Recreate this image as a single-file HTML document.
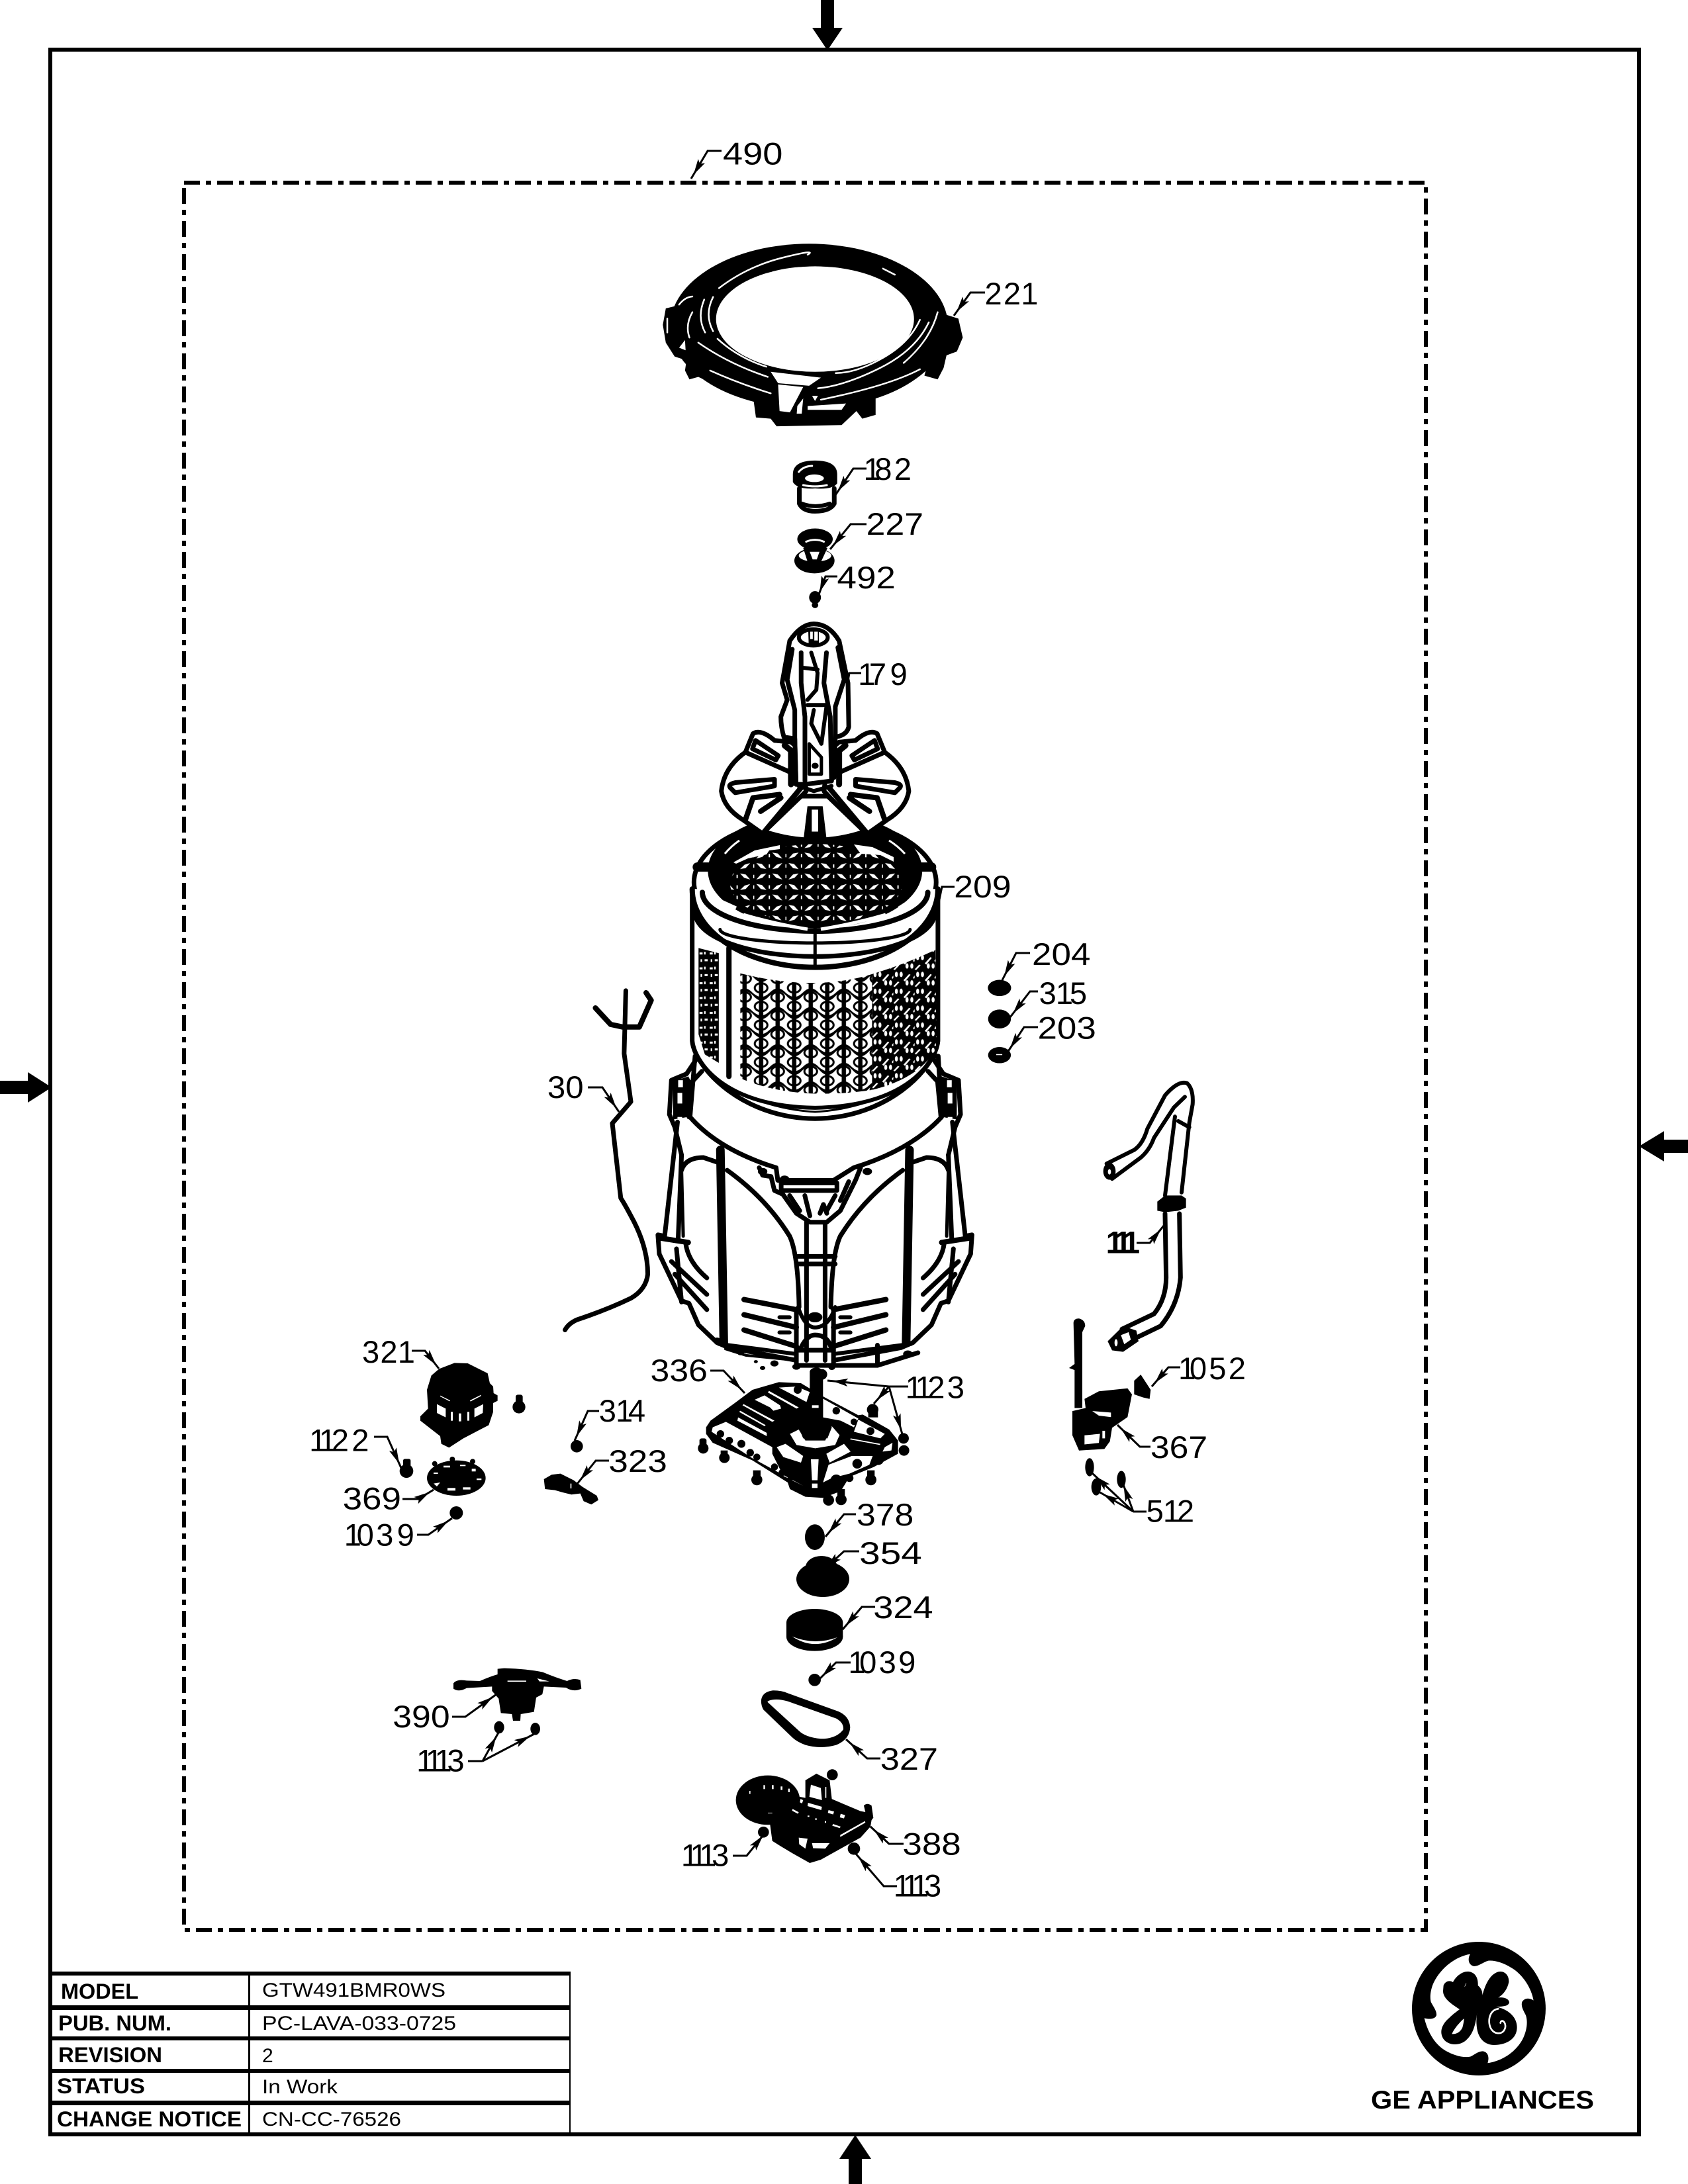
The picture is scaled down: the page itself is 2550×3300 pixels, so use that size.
<!DOCTYPE html>
<html><head><meta charset="utf-8"><title>GTW491BMR0WS</title>
<style>
html,body{margin:0;padding:0;background:#fff}
svg{display:block}
g.v *{vector-effect:non-scaling-stroke}
text{font-family:"Liberation Sans",Arial,sans-serif;fill:#000}
</style></head><body>
<svg xmlns="http://www.w3.org/2000/svg" width="2550" height="3300" viewBox="0 0 2550 3300">
<defs>
<marker id="a" markerUnits="userSpaceOnUse" markerWidth="40" markerHeight="18" refX="34" refY="9" orient="auto" overflow="visible"><polygon points="3,3 27,9 3,15 8,9" fill="#000"/></marker>
<pattern id="mt" patternUnits="userSpaceOnUse" width="127" height="62" x="618" y="696">
<rect width="127" height="62" fill="#000"/>
<g fill="#fff">
<polygon points="12,24 30,9 52,6 36,19"/>
<polygon points="12,37 34,40 52,55 30,52"/>
<polygon points="75,6 97,9 115,24 91,19"/>
<polygon points="75,55 93,42 115,37 97,52"/>
<rect x="61" y="10" width="5" height="10"/><rect x="61" y="41" width="5" height="10"/>
<rect x="0" y="10" width="4" height="10"/><rect x="0" y="41" width="4" height="10"/>
</g>
</pattern>
<pattern id="ms" patternUnits="userSpaceOnUse" width="130.6" height="55" x="620" y="1089">
<rect width="130.6" height="55" fill="#fff"/>
<g fill="#000">
<ellipse cx="32.6" cy="14" rx="29" ry="17"/><ellipse cx="32.6" cy="69" rx="29" ry="17"/>
<ellipse cx="98" cy="41" rx="29" ry="17"/><ellipse cx="98" cy="-14" rx="29" ry="17"/>
<path d="M0,29Q18,40 32,41Q48,41 65,29Q82,16 98,15Q115,16 130.6,29L130.6,36Q115,24 98,24Q82,26 65,38Q48,52 32,52Q16,50 0,36Z"/>
</g>
<ellipse cx="32.6" cy="14" rx="21" ry="11" fill="#fff"/>
<ellipse cx="98" cy="41" rx="21" ry="11" fill="#fff"/>
<rect x="24" width="17" height="55" fill="#000"/>
<rect x="89.5" width="17" height="55" fill="#000"/>
</pattern>
<pattern id="mr" patternUnits="userSpaceOnUse" width="84" height="50" x="960" y="1000">
<rect width="84" height="50" fill="#000"/>
<g fill="#fff">
<ellipse cx="12" cy="13" rx="6" ry="8"/><ellipse cx="31" cy="13" rx="6" ry="8"/>
<ellipse cx="54" cy="38" rx="6" ry="8"/><ellipse cx="73" cy="38" rx="6" ry="8"/>
<polygon points="40,30 62,12 68,14 46,34"/>
<polygon points="0,48 18,34 24,36 6,50"/>
<polygon points="78,22 84,16 84,24 80,26"/>
</g>
</pattern>
<pattern id="ml" patternUnits="userSpaceOnUse" width="40" height="44" x="275" y="990">
<rect width="40" height="44" fill="#000"/>
<rect x="4" y="8" width="12" height="6" fill="#fff"/><rect x="24" y="28" width="12" height="6" fill="#fff"/>
<rect x="22" y="6" width="6" height="8" fill="#fff"/><rect x="8" y="28" width="6" height="8" fill="#fff"/>
</pattern>

<g id="frameL" class="v">
<path d="M495,260L465,320L420,345L414,480L430,530L450,640" stroke-width="7"/>
<path d="M510,310L482,350L472,490" stroke-width="7"/>
<path d="M425,350L470,330L478,350L468,490L425,500Z" fill="#000" stroke="none"/>
<rect x="440" y="345" width="14" height="28" fill="#fff" stroke="none"/>
<rect x="438" y="395" width="14" height="42" fill="#fff" stroke="none"/>
<rect x="438" y="490" width="14" height="26" fill="#fff" stroke="none"/>
<path d="M438,510L400,960L380,955L384,1030L450,1215L472,1225L500,1310L555,1380L590,1400L790,1450" stroke-width="7"/>
<path d="M450,640L440,970" stroke-width="7"/>
<path d="M450,700Q462,650 515,650L555,668" stroke-width="7"/>
<path d="M450,700L455,960" stroke-width="5"/>
<path d="M388,968L470,985" stroke-width="8"/>
<path d="M462,985Q468,1060 525,1125" stroke-width="7"/>
<path d="M420,1060L525,1190M430,1110L525,1250M435,1010L450,1220" stroke-width="7"/>
<path d="M565,620L575,1380" stroke-width="13"/>
<path d="M585,700Q700,810 770,960Q795,1030 798,1240" stroke-width="7"/>
<path d="M635,1210L790,1250M635,1270L790,1320M635,1330L790,1395" stroke-width="8"/>
<path d="M560,1385L790,1425" stroke-width="6"/>
<path d="M740,1280L770,1280M740,1340L770,1340" stroke-width="6"/>
<path d="M790,1250L790,1470" stroke-width="7"/>
</g>
<g id="plateL" class="v">
<path d="M640,375L575,370Q520,335 490,350L460,405Q375,450 365,520Q375,570 450,605L535,650L700,520L680,400Z" fill="#fff" stroke-width="7"/>
<path d="M460,405L640,465" stroke-width="7"/>
<path d="M500,370L590,415L580,428L488,395Z" fill="#fff" stroke-width="7"/>
<path d="M400,510Q390,500 420,495L575,485L575,505L420,525Z" fill="#fff" stroke-width="7"/>
<path d="M460,605L490,540L595,530M520,580L600,540M535,640L680,510" stroke-width="8"/>
<path d="M615,385L640,400L640,500" stroke-width="9"/>
</g>
</defs>

<!-- page frame -->
<rect x="76" y="75" width="2400" height="3150" fill="none" stroke="#000" stroke-width="6"/>
<!-- edge arrows -->
<polygon points="1240,0 1260,0 1260,42 1273,42 1250,76 1227,42 1240,42" fill="#000"/>
<polygon points="1282,3300 1302,3300 1302,3262 1316,3262 1292,3226 1268,3262 1282,3262" fill="#000"/>
<polygon points="0,1633 42,1633 42,1620 78,1643 42,1666 42,1653 0,1653" fill="#000"/>
<polygon points="2550,1722 2514,1722 2514,1709 2476,1732 2514,1755 2514,1742 2550,1742" fill="#000"/>

<!-- dash-dot 490 boundary -->
<rect x="278" y="276" width="1876" height="2640" fill="none" stroke="#000" stroke-width="6" stroke-dasharray="24 9 8 9"/>

<!-- wire 30 + tub -->
<g class="v" transform="translate(800,1500) scale(.5102,.3831)" fill="none" stroke="#000" stroke-linejoin="round" stroke-linecap="round">
<path d="M285,-8L280,240L300,430L245,515L270,810Q280,830 300,880Q350,1000 350,1110Q345,1170 300,1205Q230,1250 140,1290Q115,1305 105,1330" stroke-width="7"/>
<path d="M195,60L240,125L275,135L325,135L360,30L345,0" stroke-width="8"/>
<path d="M475,490Q560,620 730,690L735,740L900,740L960,690Q1130,620 1220,490L1210,250L490,250Z" fill="#fff" stroke-width="7"/>
<use href="#frameL"/>
<use href="#frameL" transform="translate(1690,0) scale(-1,1)"/>
<path d="M745,750L910,750L910,780L745,780Z" fill="#fff" stroke-width="7"/>
<path d="M680,690L690,720L715,725L725,780L750,795L790,870L830,905L880,905L920,860L965,740L980,690" stroke-width="7"/>
<path d="M815,800L830,880M880,860L905,800M860,870L870,835L880,870M770,800L800,860M945,745L920,820" stroke-width="7"/>
<circle cx="690" cy="705" r="14" fill="#000" stroke="none"/><circle cx="755" cy="735" r="14" fill="#000" stroke="none"/><circle cx="1000" cy="705" r="14" fill="#000" stroke="none"/>
<path d="M820,905L820,1450M875,905L875,1450M795,1070L905,1070M795,1040L905,1040" stroke-width="7"/>
<path d="M795,1240Q815,1320 845,1320Q885,1320 905,1240" stroke-width="6"/>
<ellipse cx="845" cy="1280" rx="22" ry="20" fill="#000" stroke="none"/>
<path d="M800,1410Q820,1350 845,1350Q885,1350 895,1410" stroke-width="7"/>
<path d="M790,1470L1030,1470L1150,1420M1030,1470L1030,1390M790,1410L900,1410" stroke-width="7"/>
<path d="M580,1405L640,1430L790,1450" stroke-width="4"/>
<circle cx="690" cy="1480" r="8" fill="#000" stroke="none"/><circle cx="670" cy="1455" r="6" fill="#000" stroke="none"/><circle cx="725" cy="1462" r="12" fill="#000" stroke="none"/><circle cx="790" cy="1475" r="12" fill="#000" stroke="none"/><circle cx="895" cy="1478" r="10" fill="#000" stroke="none"/><circle cx="625" cy="1420" r="10" fill="#000" stroke="none"/><circle cx="1120" cy="1425" r="14" fill="#000" stroke="none"/><circle cx="555" cy="1370" r="10" fill="#000" stroke="none"/>
</g>

<!-- basket + impeller -->
<g class="v" transform="translate(950,930) scale(.3827,.5102)" fill="none" stroke="#000" stroke-linejoin="round" stroke-linecap="round">
<path d="M250,810L250,1260C260,1340 450,1490 735,1490C1020,1490 1210,1340 1220,1260L1220,810Z" fill="#fff" stroke-width="7"/>
<path d="M440,1060Q735,1115 960,1062L960,1405Q735,1430 560,1400Q480,1385 440,1370Z" fill="url(#ms)" stroke="none"/>
<path d="M960,1062Q1100,1030 1210,990L1215,1280Q1150,1370 960,1405Z" fill="url(#mr)" stroke="none"/>
<path d="M275,985L355,1000L355,1325L300,1300L275,1240Z" fill="url(#ml)" stroke="none"/>
<path d="M395,985L395,1365" stroke-width="8"/>
<path d="M265,1300C340,1400 500,1455 735,1458C970,1455 1130,1400 1205,1300" stroke-width="6"/>
<path d="M330,1370C450,1430 600,1465 735,1470C870,1465 1020,1430 1140,1370" stroke-width="3"/>
<ellipse cx="735" cy="790" rx="478" ry="190" fill="#fff" stroke-width="7"/>
<path d="M250,810A485 232 0 0 0 1220,810" fill="#fff" stroke-width="8"/>
<path d="M262,880A473 130 0 0 0 1208,880" stroke-width="7"/>
<path d="M360,930A375 40 0 0 0 1110,930" stroke-width="5"/>
<path d="M290,820A445 115 0 0 0 1180,820" stroke-width="8"/>
<path d="M735,925L735,1040" stroke-width="5"/>
<ellipse cx="735" cy="755" rx="410" ry="162" fill="#000" stroke="#000" stroke-width="10"/>
<ellipse cx="740" cy="795" rx="340" ry="118" fill="url(#mt)" stroke="none"/>
<path d="M270,745L325,745M1145,745L1195,745" stroke-width="14"/>
<use href="#plateL"/>
<use href="#plateL" transform="translate(1470,0) scale(-1,1)"/>
<path d="M535,640L680,535L785,535L930,640Q735,690 535,640Z" fill="#fff" stroke-width="7"/>
<path d="M690,660L705,565L765,565L780,660Q735,670 690,660Z" fill="#000" stroke="none"/>
<rect x="722" y="575" width="25" height="65" fill="#fff" stroke="none"/>
<path d="M635,75Q680,25 730,25Q790,25 830,75L865,200L868,330Q860,355 815,360L800,490L695,500L660,500L655,365L612,360Q600,330 600,300L625,250L605,200Z" fill="#fff" stroke-width="7"/>
<ellipse cx="728" cy="65" rx="57" ry="24" stroke-width="6"/>
<path d="M708,42L750,42L750,88L710,88Z" fill="#000" stroke="none"/>
<rect x="716" y="48" width="10" height="22" fill="#fff" stroke="none"/><rect x="732" y="48" width="14" height="26" fill="#fff" stroke="none"/>
<path d="M645,100L625,190L655,280L655,360L660,500" stroke-width="7"/>
<path d="M825,95L850,190L815,270L815,350L810,480" stroke-width="7"/>
<path d="M680,110L680,200L695,300L695,490" stroke-width="7"/>
<path d="M780,110L770,200L795,300L800,490" stroke-width="7"/>
<path d="M720,110L745,170L740,220L705,250M690,155L745,160M730,280L720,320L760,380L780,270M705,265L780,265" stroke-width="6"/>
<path d="M712,380L760,420L760,470L712,470Z" stroke-width="5"/>
<ellipse cx="735" cy="445" rx="14" ry="9" fill="#000" stroke="none"/>
<path d="M700,500L670,505L730,520L800,505" stroke-width="6"/>
<path d="M835,375L895,372M630,375L575,372" stroke-width="5"/>
<ellipse cx="1463" cy="1103" rx="46" ry="24" fill="#000" stroke="none"/>
<ellipse cx="1463" cy="1195" rx="45" ry="28" fill="#000" stroke="none"/>
<ellipse cx="1463" cy="1302" rx="45" ry="24" fill="#000" stroke="none"/>
<rect x="1450" y="1299" width="24" height="3" fill="#fff" stroke="none"/>
</g>
<!-- white highlights in basket hole -->
<g fill="#fff" stroke="none">
<polygon points="1108,1303 1140,1285 1178,1277 1178,1283 1162,1285 1158,1291 1130,1297 1112,1305"/>
<polygon points="1290,1276 1318,1280 1350,1295 1350,1302 1330,1292 1300,1290"/>
</g>
<g fill="none" stroke="#fff" stroke-width="5">
<path d="M1123,1382Q1170,1396 1220,1404"/>
<path d="M1240,1404Q1290,1396 1338,1382"/>
<path d="M1090,1362L1112,1372"/>
<path d="M1358,1372L1380,1358"/>
<path stroke-width="3" d="M1095,1290Q1105,1278 1117,1270"/>
<path stroke-width="3" d="M1343,1270Q1356,1278 1367,1290"/>
</g>

<!-- ring 221, 182, 227, 492 -->
<g class="v" transform="translate(950,330) scale(.4464,.3831)" fill="none" stroke="#fff" stroke-linejoin="round" stroke-linecap="round">
<ellipse cx="610" cy="425" rx="470" ry="325" fill="#000" stroke="none"/>
<path d="M1060,375L1115,395L1130,470L1110,525L1075,540L1065,590L1045,635L1000,620ZM835,700L835,775L790,790L770,760L720,815L500,820L480,790L430,785L420,700ZM300,660L235,625L205,635L190,600L195,560L155,545L125,490L115,420L125,355L160,345L185,300L215,285L300,400Z" fill="#000" stroke="none"/>
<ellipse cx="630" cy="397" rx="335" ry="208" fill="#fff" stroke="none"/>
<path d="M420,190L490,190L485,210L430,225ZM520,175L740,175L735,195L630,188L525,195ZM770,185L840,190L830,225L785,212Z" fill="#000" stroke="none"/>
<path d="M305,275Q400,190 520,155T605,143M860,198L900,222M255,320Q230,390 258,450M285,310Q255,380 285,445M215,370Q190,420 205,470M300,475Q370,550 465,585M235,490Q340,575 470,625M275,600Q370,650 480,690M985,400Q950,490 860,550T700,610M1015,410Q970,520 850,590T640,670M1045,370Q1020,480 930,570M985,595Q880,660 650,715M170,340Q190,310 215,308M130,395L130,450" stroke-width="2.5"/>
<path d="M480,605L650,628L610,660L505,650ZM505,655L590,665L545,765L510,760ZM568,770L585,770L590,710L570,740ZM605,740L735,730L720,755L605,755ZM620,700L640,700L630,720ZM170,510L190,480L192,520Z" fill="#fff" stroke="none"/>
<path d="M555,1010Q555,955 630,955Q705,955 705,1010L705,1045Q690,1070 630,1065Q570,1070 555,1040Z" fill="#000" stroke="none"/>
<ellipse cx="628" cy="1025" rx="32" ry="15" fill="#fff" stroke="none"/>
<path d="M575,1000Q590,978 620,976M590,1052Q630,1062 670,1052" stroke-width="3"/>
<path d="M577,1065L577,1125Q590,1155 630,1155Q680,1155 695,1125L695,1065" stroke="#000" stroke-width="7"/>
<path d="M585,1125Q630,1145 680,1125" stroke="#000" stroke-width="6"/>
<ellipse cx="630" cy="1265" rx="60" ry="42" fill="#000" stroke="none"/>
<ellipse cx="628" cy="1350" rx="68" ry="50" fill="#000" stroke="none"/>
<ellipse cx="630" cy="1330" rx="55" ry="24" fill="#fff" stroke="none"/>
<path d="M600,1275Q630,1260 660,1275" stroke-width="3"/>
<path d="M590,1300L610,1290L650,1290L672,1300L650,1355L605,1355Z" fill="#000" stroke="none"/>
<polygon points="612,1315 645,1315 636,1345 622,1345" fill="#fff" stroke="none"/>
<ellipse cx="630" cy="1495" rx="20" ry="25" fill="#000" stroke="none"/>
<ellipse cx="630" cy="1525" rx="11" ry="12" fill="#000" stroke="none"/>
</g>

<!-- hose 111, valve 367 -->
<g class="v" transform="translate(1580,1600) scale(.3333,.4587)" fill="none" stroke="#000" stroke-linejoin="round" stroke-linecap="round">
<path d="M275,345L400,300Q440,280 460,230L540,120Q600,70 640,80Q670,100 665,150L650,210L615,440" stroke-width="6"/>
<path d="M300,395L430,325Q470,300 490,260L580,160L630,125M585,190L540,450M600,205L650,225" stroke-width="6"/>
<ellipse cx="288" cy="370" rx="28" ry="28" fill="#000" stroke="none"/><ellipse cx="288" cy="372" rx="7" ry="9" fill="#fff" stroke="none"/>
<path d="M505,470L540,450L615,450L635,460L635,490L600,500L540,505L505,500Z" fill="#000" stroke="none"/>
<path d="M540,510L545,720Q545,790 490,840L345,890M605,510L610,720Q600,810 520,880L420,915" stroke-width="7"/>
<path d="M280,930L350,880L410,895L420,930L350,965L300,960Z" fill="#000" stroke="none"/>
<polygon points="340,910 375,900 385,925 355,940" fill="#fff" stroke="none"/>
<ellipse cx="318" cy="935" rx="7" ry="12" fill="#fff" stroke="none"/>
<path d="M125,870Q125,855 150,855Q178,860 178,880L165,900L165,1150L130,1150L130,1025L105,1018L130,1005Z" fill="#000" stroke="none"/>
<path d="M120,1160L180,1150L175,1120L240,1095L370,1085L390,1105L370,1180L300,1215L290,1260L265,1285L150,1290L120,1240Z" fill="#000" stroke="none"/>
<polygon points="175,1240 245,1235 240,1265 175,1270" fill="#fff" stroke="none"/>
<polygon points="256,1225 268,1225 268,1250 256,1250" fill="#fff" stroke="none"/>
<polygon points="210,1160 295,1165 295,1180 240,1175" fill="#fff" stroke="none"/>
<path d="M400,1060L430,1040L475,1090L470,1120L440,1115L400,1105Z" fill="#000" stroke="none"/>
<ellipse cx="198" cy="1345" rx="20" ry="30" fill="#000" stroke="none"/>
<ellipse cx="228" cy="1410" rx="22" ry="28" fill="#000" stroke="none"/>
<ellipse cx="342" cy="1385" rx="20" ry="28" fill="#000" stroke="none"/>
</g>

<!-- motor 321, 369, 323 etc -->
<g class="v" transform="translate(600,2000) scale(.3333)" fill="#000" stroke="none">
<path d="M190,205L260,178L320,180L410,225L420,270L435,285L437,315L455,325L455,350L435,360L435,400L415,460L300,520L235,562L200,545L195,510L105,440L105,420L140,385L135,300L155,235Z"/>
<g fill="#fff"><polygon points="180,365 220,385 220,425 180,405"/><polygon points="350,385 390,365 388,405 350,425"/><rect x="243" y="400" width="9" height="40"/><rect x="279" y="407" width="11" height="36"/><rect x="318" y="400" width="9" height="40"/><polygon points="195,326 240,348 238,352 195,330"/><polygon points="330,348 380,323 380,328 332,353"/></g>
<circle cx="552" cy="378" r="29"/><rect x="537" y="322" width="32" height="50" rx="10"/>
<circle cx="42" cy="668" r="31"/><rect x="27" y="613" width="34" height="50" rx="8"/>
<ellipse cx="268" cy="700" rx="133" ry="80"/>
<circle cx="250" cy="615" r="12"/><circle cx="170" cy="635" r="12"/><circle cx="342" cy="625" r="12"/>
<g fill="#fff"><rect x="210" y="644" width="30" height="8"/><rect x="285" y="640" width="25" height="6"/><rect x="338" y="658" width="18" height="12"/><rect x="165" y="675" width="20" height="6"/><rect x="360" y="702" width="22" height="7"/><polygon points="165,725 195,720 180,738"/><rect x="228" y="745" width="36" height="12"/><rect x="298" y="742" width="34" height="10"/></g>
<circle cx="268" cy="858" r="30"/>
<circle cx="814" cy="556" r="28"/>
<path d="M665,705L700,685L740,680L800,710L840,740L905,780L912,800L880,820L845,805L830,770L790,775L750,765L715,755L670,750Z"/>
<rect x="785" y="725" width="5" height="22" fill="#fff"/>
</g>

<!-- 336 -->
<g class="v" transform="translate(950,2000) scale(.3333)" fill="#000" stroke="none">
<path d="M350,470L370,440L480,360L560,300L680,265L780,270L830,300L880,330L1040,415L1060,412L1180,480L1220,530L1220,590L1110,650L1000,695L960,760L880,790L800,785L730,750L720,720L560,620L380,540L350,500Z"/>
<g fill="#fff">
<polygon points="680,290 760,285 820,310 805,355"/>
<polygon points="880,340 1040,430 1020,470 960,440 880,425"/>
<polygon points="570,345 615,325 685,370 690,385 655,395 640,380"/>
<polygon points="635,305 770,380 760,385 630,312"/>
<polygon points="520,365 660,440 650,445 515,370"/>
<polygon points="505,395 620,460 615,465 500,400"/>
<polygon points="495,425 625,495 625,510 492,440"/>
<polygon points="380,470 440,445 650,560 650,590 700,690 790,735 560,610 375,490"/>
<path d="M730,500L770,480L800,530L890,530L920,465L955,505L935,550L845,565L760,550Z"/>
<polygon points="670,560 710,545 790,600 780,630 700,605"/>
<polygon points="895,590 975,545 1005,580 910,630"/>
<polygon points="1040,435 1160,500 1140,520 1020,490"/>
<polygon points="1005,520 1140,545 1138,550 1003,525"/>
<polygon points="1010,600 1105,600 1090,640 1000,680 920,700 880,720 905,640"/>
<polygon points="1160,560 1195,540 1190,575 1150,580"/>
</g>
<circle cx="1095" cy="487" r="18"/><circle cx="940" cy="395" r="17"/><circle cx="765" cy="300" r="18"/><circle cx="1020" cy="445" r="15"/>
<circle cx="415" cy="500" r="17"/><circle cx="455" cy="530" r="17"/><circle cx="510" cy="545" r="18"/><circle cx="550" cy="585" r="17"/><circle cx="580" cy="605" r="16"/><circle cx="660" cy="650" r="16"/><circle cx="695" cy="675" r="16"/><circle cx="735" cy="695" r="16"/>
<circle cx="1035" cy="635" r="22"/><circle cx="940" cy="710" r="26"/><circle cx="1000" cy="700" r="18"/><circle cx="1130" cy="615" r="26"/>
<g fill="#fff"><polygon points="825,615 860,615 855,710 830,710"/><rect x="830" y="725" width="25" height="20"/></g>
<path d="M820,215Q830,195 860,200L880,210L880,440L920,470L900,520L790,520L770,470L810,440L820,400Z"/>
<circle cx="875" cy="230" r="24"/>
<rect x="830" y="370" width="30" height="12" fill="#fff"/>
<circle cx="337" cy="565" r="24"/><rect x="320" y="520" width="32" height="45" rx="10"/>
<circle cx="433" cy="608" r="24"/><rect x="416" y="575" width="32" height="30"/>
<circle cx="580" cy="708" r="25"/><rect x="563" y="665" width="34" height="40"/>
<circle cx="1097" cy="708" r="25"/><rect x="1080" y="665" width="34" height="40"/>
<circle cx="905" cy="800" r="25"/><circle cx="962" cy="798" r="25"/><rect x="945" y="750" width="34" height="45"/>
<circle cx="1105" cy="390" r="26"/><rect x="1085" y="385" width="44" height="40"/>
<circle cx="1245" cy="520" r="24"/><circle cx="1247" cy="575" r="24"/>
<ellipse cx="843" cy="968" rx="45" ry="58"/>
</g>

<!-- 354, 324, 1039, 327, 388 -->
<ellipse cx="1243" cy="2386" rx="40" ry="27" fill="#000"/>
<ellipse cx="1241" cy="2368" rx="24" ry="17" fill="#000"/>
<g class="v" transform="translate(1000,2380) scale(.3333)" fill="#000" stroke="none">
<ellipse cx="692" cy="280" rx="128" ry="64"/>
<ellipse cx="692" cy="215" rx="128" ry="62"/>
<rect x="564" y="215" width="256" height="65"/>
<path d="M590,278Q690,320 795,282Q690,345 590,278Z" fill="#fff"/>
<circle cx="692" cy="475" r="28"/>
<path fill-rule="evenodd" d="M450,565Q455,530 500,523Q540,522 570,535L800,618Q850,640 853,690Q850,745 790,770Q720,790 650,770Q610,755 590,735L460,610Q448,590 450,565ZM478,575L620,705Q650,735 720,742Q790,742 822,700Q825,670 790,650L570,572Q530,560 500,565Q480,568 478,575Z"/>
<ellipse cx="480" cy="1020" rx="145" ry="112"/>
<path d="M650,1010L650,930L700,900L760,930L770,1015L900,1070L955,1080L945,1140L900,1190L720,1290L670,1305L590,1260L540,1230L500,1205L490,1130L600,1000Z"/>
<circle cx="772" cy="905" r="25"/>
<path d="M915,1045Q930,1030 950,1045L958,1100L935,1130Z"/>
<circle cx="460" cy="1165" r="25"/>
<circle cx="870" cy="1240" r="28"/>
<g fill="#fff">
<polygon points="675,950 720,965 725,1020 668,1005"/>
<polygon points="740,960 745,960 745,1010 740,1010"/>
<rect x="460" y="952" width="7" height="18"/><rect x="498" y="952" width="8" height="18"/><rect x="538" y="958" width="8" height="16"/><rect x="572" y="968" width="7" height="16"/><rect x="396" y="978" width="5" height="14"/>
<polygon points="628,1015 640,1020 635,1035 625,1030"/>
<polygon points="662,1032 725,1050 722,1065 660,1047"/>
<polygon points="755,1065 780,1072 776,1085 752,1078"/>
<polygon points="810,1082 830,1088 825,1103 806,1098"/>
<polygon points="592,1060 620,1075 616,1082 590,1068"/>
<polygon points="775,1128 810,1140 806,1147 772,1136"/>
<polygon points="808,1178 920,1115 922,1122 808,1187"/>
<polygon points="620,1190 660,1195 650,1240 622,1220"/>
<polygon points="680,1215 760,1215 740,1240 685,1238"/>
<rect x="480" y="1077" width="20" height="3"/><rect x="660" y="1090" width="8" height="6"/><rect x="695" y="1102" width="6" height="8"/><rect x="738" y="1115" width="6" height="8"/>
</g>
</g>

<!-- 390 -->
<g class="v" transform="translate(580,2480) scale(.3333)" fill="#000" stroke="none">
<path d="M315,190Q330,170 375,178L435,180Q480,160 515,150L515,125L545,122Q650,125 720,140Q780,165 830,180Q860,165 890,175L895,215Q860,232 825,210L725,205L718,240L690,255L680,320L620,330L618,360L585,360L580,330L530,325L520,260L490,225L490,205L375,212Q340,232 315,215Z"/>
<polygon points="560,178 645,178 645,183 560,183" fill="#fff"/>
<polygon points="695,168 750,182 705,182" fill="#fff"/>
<ellipse cx="522" cy="390" rx="23" ry="28"/>
<ellipse cx="686" cy="397" rx="22" ry="28"/>
</g>

<!-- GE logo -->
<g transform="translate(2040,2900) scale(.3333)">
<circle cx="582" cy="405" r="303" fill="#000"/>
<path fill="#fff" d="M543,158C470,170 400,230 372,300C362,330 360,355 365,375C375,395 392,415 390,435C385,452 360,455 335,448C350,510 380,565 430,595C470,618 515,630 545,622C565,612 580,598 600,598C620,600 632,620 622,652C690,642 750,600 780,545C800,505 805,465 795,435C785,415 772,395 778,375C790,355 812,356 830,368C820,310 780,250 730,220C690,195 650,185 625,188C600,195 585,212 560,213C535,208 530,180 543,158Z"/>
<path fill="#000" d="M422,300C430,280 450,275 465,285C480,255 510,235 535,237C565,240 580,265 578,300C590,310 600,325 598,345C610,300 630,250 670,238C700,232 720,255 718,285C712,315 695,340 670,355C695,352 720,360 720,378C715,395 690,395 660,397C710,405 755,440 755,490C755,540 710,570 650,570C600,568 575,530 572,480C570,460 572,440 575,420C568,470 560,520 520,552C490,575 440,572 420,540C400,505 420,470 450,445C465,430 480,420 495,408C460,385 420,360 420,325Z"/>
<path fill="#fff" d="M515,450C500,462 470,495 460,520C480,522 500,510 508,490C512,475 515,460 515,450Z"/>
<path fill="none" stroke="#fff" stroke-width="8" stroke-linecap="round" d="M670,406C640,410 625,440 630,475C635,505 655,520 680,516C700,510 708,485 698,468C692,458 682,458 680,470"/>
<path fill="none" stroke="#fff" stroke-width="2" d="M525,290L518,305"/>
</g>
<text x="2071" y="3186" font-size="39" font-weight="bold" textLength="337" lengthAdjust="spacingAndGlyphs">GE APPLIANCES</text>

<!-- title block -->
<g fill="#000">
<rect x="76" y="2979" width="786" height="6"/>
<rect x="76" y="3030" width="786" height="7"/>
<rect x="76" y="3077" width="786" height="6"/>
<rect x="76" y="3126" width="786" height="6"/>
<rect x="76" y="3174" width="786" height="7"/>
<rect x="375" y="2980" width="3" height="245"/>
<rect x="860" y="2980" width="2" height="245"/>
</g>
<g font-size="32" font-weight="bold">
<text x="92" y="3020" textLength="117" lengthAdjust="spacingAndGlyphs">MODEL</text>
<text x="88" y="3068" textLength="171" lengthAdjust="spacingAndGlyphs">PUB. NUM.</text>
<text x="88" y="3116" textLength="157" lengthAdjust="spacingAndGlyphs">REVISION</text>
<text x="86" y="3163" textLength="133" lengthAdjust="spacingAndGlyphs">STATUS</text>
<text x="86" y="3213" textLength="279" lengthAdjust="spacingAndGlyphs">CHANGE NOTICE</text>
</g>
<g font-size="30">
<text x="396" y="3017" textLength="277" lengthAdjust="spacingAndGlyphs">GTW491BMR0WS</text>
<text x="396" y="3067" textLength="293" lengthAdjust="spacingAndGlyphs">PC-LAVA-033-0725</text>
<text x="396" y="3116">2</text>
<text x="396" y="3163" textLength="114" lengthAdjust="spacingAndGlyphs">In Work</text>
<text x="396" y="3212" textLength="210" lengthAdjust="spacingAndGlyphs">CN-CC-76526</text>
</g>

<!-- leaders -->
<g fill="none" stroke="#000" stroke-width="3">
<polyline marker-end="url(#a)" points="1090,228 1069,228 1044,270"/>
<polyline marker-end="url(#a)" points="1488,442 1466,442 1441,477"/>
<polyline marker-end="url(#a)" points="1309,708 1289,708 1262,748"/>
<polyline marker-end="url(#a)" points="1309,792 1285,792 1254,830"/>
<polyline marker-end="url(#a)" points="1265,871 1247,871 1236,901"/>
<polyline points="1301,1017 1283,1017 1280,1035"/>
<polyline points="1442,1340 1423,1340 1417,1369"/>
<polyline marker-end="url(#a)" points="1556,1440 1535,1440 1514,1481"/>
<polyline marker-end="url(#a)" points="1568,1498 1556,1498 1526,1537"/>
<polyline marker-end="url(#a)" points="1568,1552 1547,1552 1522,1590"/>
<polyline marker-end="url(#a)" points="888,1643 910,1643 935,1680"/>
<polyline marker-end="url(#a)" points="1717,1878 1737,1878 1758,1852"/>
<polyline marker-end="url(#a)" points="1783,2066 1765,2066 1740,2095"/>
<polyline marker-end="url(#a)" points="1738,2186 1722,2186 1688,2153"/>
<polyline points="1732,2284 1712,2284"/>
<path marker-end="url(#a)" d="M1712,2284L1695,2238"/>
<path marker-end="url(#a)" d="M1712,2284L1650,2226"/>
<path marker-end="url(#a)" d="M1712,2284L1660,2254"/>
<polyline marker-end="url(#a)" points="622,2041 642,2041 663,2068"/>
<polyline marker-end="url(#a)" points="565,2171 585,2171 606,2218"/>
<polyline marker-end="url(#a)" points="608,2265 632,2265 655,2251"/>
<polyline marker-end="url(#a)" points="630,2319 647,2319 683,2294"/>
<polyline marker-end="url(#a)" points="905,2132 888,2132 868,2177"/>
<polyline marker-end="url(#a)" points="920,2207 900,2207 872,2242"/>
<polyline marker-end="url(#a)" points="1073,2071 1093,2071 1125,2105"/>
<polyline points="1372,2095 1343,2095"/>
<path marker-end="url(#a)" d="M1343,2095L1250,2086"/>
<path marker-end="url(#a)" d="M1343,2095L1320,2121"/>
<path marker-end="url(#a)" d="M1343,2095L1363,2167"/>
<polyline marker-end="url(#a)" points="1293,2288 1275,2288 1247,2322"/>
<polyline marker-end="url(#a)" points="1298,2344 1275,2344 1243,2373"/>
<polyline marker-end="url(#a)" points="1322,2428 1302,2428 1273,2462"/>
<polyline marker-end="url(#a)" points="1285,2512 1263,2512 1237,2538"/>
<polyline marker-end="url(#a)" points="1330,2657 1310,2657 1278,2628"/>
<polyline marker-end="url(#a)" points="1365,2786 1343,2786 1315,2760"/>
<polyline marker-end="url(#a)" points="1107,2804 1128,2804 1157,2768"/>
<polyline marker-end="url(#a)" points="1355,2850 1335,2850 1292,2800"/>
<polyline marker-end="url(#a)" points="683,2594 703,2594 750,2560"/>
<polyline points="707,2661 729,2661"/>
<path marker-end="url(#a)" d="M729,2661L753,2618"/>
<path marker-end="url(#a)" d="M729,2661L807,2620"/>
</g>

<!-- labels -->
<g transform="scale(2.104)" font-size="22.4">
<text x="519" y="118" textLength="43" lengthAdjust="spacingAndGlyphs">490</text>
<text x="707 720.5 733" y="218.7">221</text>
<text x="620 628 642" y="344.5">182</text>
<text x="622" y="384" textLength="41" lengthAdjust="spacingAndGlyphs">227</text>
<text x="601" y="422.5" textLength="42" lengthAdjust="spacingAndGlyphs">492</text>
<text x="616 624 639" y="492">179</text>
<text x="685" y="644.5" textLength="41" lengthAdjust="spacingAndGlyphs">209</text>
<text x="741" y="693" textLength="42" lengthAdjust="spacingAndGlyphs">204</text>
<text x="746 758 768" y="721">315</text>
<text x="745" y="746" textLength="42" lengthAdjust="spacingAndGlyphs">203</text>
<text x="393" y="788.5" textLength="26" lengthAdjust="spacingAndGlyphs">30</text>
<text x="794 800 806" y="900" font-weight="bold">111</text>
<text x="846 854 868 882" y="990.5">1052</text>
<text x="826" y="1047" textLength="41" lengthAdjust="spacingAndGlyphs">367</text>
<text x="823 835 845" y="1093">512</text>
<text x="260 273 285.5" y="978.6">321</text>
<text x="222 229 238 252.5" y="1042">1122</text>
<text x="246" y="1084" textLength="42" lengthAdjust="spacingAndGlyphs">369</text>
<text x="247 256 270 285" y="1110">1039</text>
<text x="430 442 451" y="1021">314</text>
<text x="437" y="1057" textLength="42" lengthAdjust="spacingAndGlyphs">323</text>
<text x="467" y="992" textLength="41" lengthAdjust="spacingAndGlyphs">336</text>
<text x="650 657 666 680" y="1004">1123</text>
<text x="615" y="1095.5" textLength="41" lengthAdjust="spacingAndGlyphs">378</text>
<text x="617" y="1123" textLength="45" lengthAdjust="spacingAndGlyphs">354</text>
<text x="627" y="1162" textLength="43" lengthAdjust="spacingAndGlyphs">324</text>
<text x="609 617 631 645" y="1201.5">1039</text>
<text x="632" y="1271" textLength="41.5" lengthAdjust="spacingAndGlyphs">327</text>
<text x="648" y="1332" textLength="42" lengthAdjust="spacingAndGlyphs">388</text>
<text x="489 495.5 502 511" y="1340">1113</text>
<text x="641.5 648 654.5 663.5" y="1362">1113</text>
<text x="282" y="1240.5" textLength="41" lengthAdjust="spacingAndGlyphs">390</text>
<text x="299 305.5 312 321" y="1272">1113</text>
</g>
</svg>
</body></html>
